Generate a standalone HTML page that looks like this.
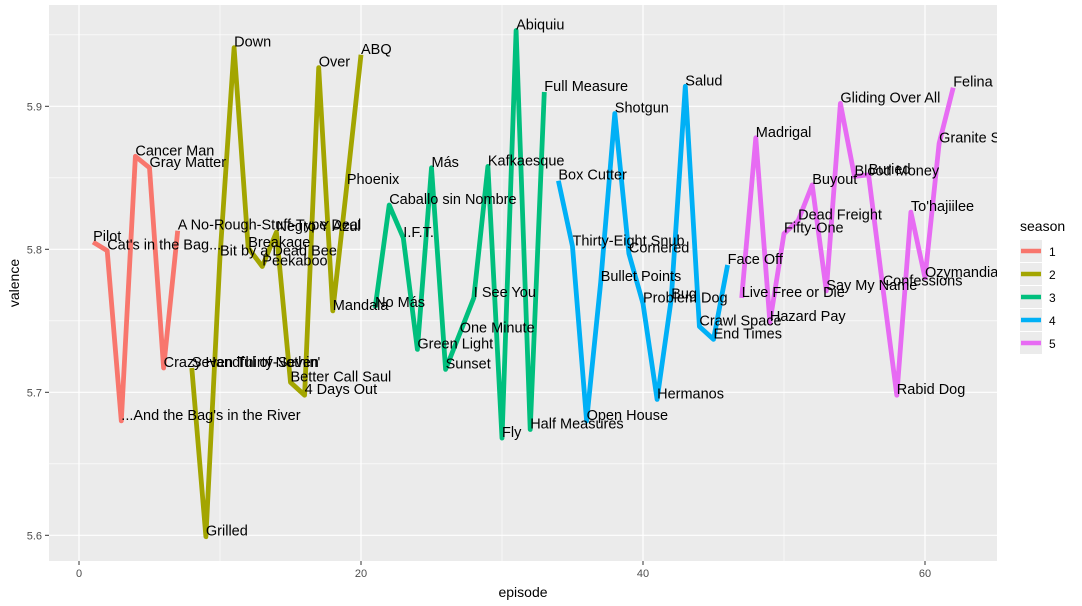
<!DOCTYPE html>
<html><head><meta charset="utf-8">
<style>
html,body{margin:0;padding:0;background:#fff;}
svg{display:block;font-family:"Liberation Sans",Arial,sans-serif;}
</style></head>
<body>
<svg id="chart" width="1082" height="606" viewBox="0 0 1082 606">
<defs><clipPath id="pclip"><rect x="49" y="5" width="948" height="556"/></clipPath></defs>
<rect x="0" y="0" width="1082" height="606" fill="#fff"/>
<rect x="49" y="5" width="948" height="556" fill="#ebebeb"/>
<g id="grid"></g>
<g id="lines" clip-path="url(#pclip)"></g>
<g id="labels" clip-path="url(#pclip)"></g>
<g id="axes"></g>
<text x="523" y="597" font-size="14" text-anchor="middle" fill="#000">episode</text>
<text transform="translate(19,283) rotate(-90)" font-size="14" text-anchor="middle" fill="#000">valence</text>
<g id="legend"></g>
</svg>
<script>
const titles = ["Pilot","Cat's in the Bag...","...And the Bag's in the River","Cancer Man","Gray Matter","Crazy Handful of Nothin'","A No-Rough-Stuff-Type Deal",
"Seven Thirty-Seven","Grilled","Bit by a Dead Bee","Down","Breakage","Peekaboo","Negro Y Azul","Better Call Saul","4 Days Out","Over","Mandala","Phoenix","ABQ",
"No Más","Caballo sin Nombre","I.F.T.","Green Light","Más","Sunset","One Minute","I See You","Kafkaesque","Fly","Abiquiu","Half Measures","Full Measure",
"Box Cutter","Thirty-Eight Snub","Open House","Bullet Points","Shotgun","Cornered","Problem Dog","Hermanos","Bug","Salud","Crawl Space","End Times","Face Off",
"Live Free or Die","Madrigal","Hazard Pay","Fifty-One","Dead Freight","Buyout","Say My Name","Gliding Over All","Blood Money","Buried","Confessions","Rabid Dog","To'hajiilee","Ozymandias","Granite State","Felina"];
const valence = [5.805,5.799,5.680,5.865,5.857,5.717,5.813,
5.717,5.599,5.795,5.941,5.801,5.788,5.812,5.707,5.698,5.927,5.757,5.845,5.936,
5.759,5.831,5.808,5.730,5.857,5.716,5.741,5.766,5.858,5.668,5.953,5.674,5.910,
5.848,5.802,5.680,5.777,5.895,5.797,5.762,5.695,5.765,5.914,5.746,5.737,5.789,
5.766,5.878,5.749,5.811,5.820,5.845,5.771,5.902,5.851,5.852,5.774,5.698,5.826,5.780,5.874,5.913];
const seasonCounts = [7,13,13,13,16];
const seasonNames = ["1","2","3","4","5"];
const colors = ["#F8766D","#A3A500","#00BF7D","#00B0F6","#E76BF3"];
const xTicks = [0,20,40,60];
const yTicks = [5.6,5.7,5.8,5.9];

const NS="http://www.w3.org/2000/svg";
const L=49,R=997,T=5,B=561;
const xs=v=>79+v*14.1;
const ys=v=>535.3-(v-5.6)*1430;
function mk(tag,attrs,parent){const e=document.createElementNS(NS,tag);for(const k in attrs)e.setAttribute(k,attrs[k]);parent.appendChild(e);return e;}
const grid=document.getElementById('grid'),lines=document.getElementById('lines'),labs=document.getElementById('labels'),axes=document.getElementById('axes'),leg=document.getElementById('legend');
for(let i=0;i<xTicks.length;i++){
  const m=xTicks[i]+10; if(xs(m)<R){const g=mk('line',{x1:xs(m),x2:xs(m),y1:T,y2:B,stroke:'#fff','stroke-width':0.6},grid);}
}
for(let i=0;i<yTicks.length;i++){
  [yTicks[i]-0.05,yTicks[i]+0.05].forEach(m=>{const y=ys(m);if(y>T&&y<B&&(i==0||m>yTicks[i])){const g=mk('line',{x1:L,x2:R,y1:y,y2:y,stroke:'#fff','stroke-width':0.6},grid);}});
}
xTicks.forEach(t=>{
  const g=mk('line',{x1:xs(t),x2:xs(t),y1:T,y2:B,stroke:'#fff','stroke-width':1.2},grid);
  
  const tk=mk('line',{x1:xs(t),x2:xs(t),y1:B,y2:B+4,stroke:'#333','stroke-width':1},axes);
  
  const tx=mk('text',{x:xs(t),y:B+16,'font-size':11,'text-anchor':'middle',fill:'#4d4d4d'},axes);
  tx.textContent=t;
  
});
yTicks.forEach(t=>{
  const g=mk('line',{x1:L,x2:R,y1:ys(t),y2:ys(t),stroke:'#fff','stroke-width':1.2},grid);
  
  const tk=mk('line',{x1:L-4,x2:L,y1:ys(t),y2:ys(t),stroke:'#333','stroke-width':1},axes);
  
  const tx=mk('text',{x:L-7,y:ys(t)+4,'font-size':11,'text-anchor':'end',fill:'#4d4d4d'},axes);
  tx.textContent=t.toFixed(1);
  
});
let start=0;
seasonCounts.forEach((c,s)=>{
  const pts=[];
  for(let i=start;i<start+c;i++)pts.push(xs(i+1).toFixed(1)+','+ys(valence[i]).toFixed(1));
  const pl=mk('polyline',{points:pts.join(' '),fill:'none',stroke:colors[s],'stroke-width':4.8,'stroke-linejoin':'round'},lines);
  
  
  start+=c;
});
for(let i=0;i<valence.length;i++){
  const t=mk('text',{x:xs(i+1),y:ys(valence[i])-1,'font-size':14.5,fill:'#000'},labs);
  t.textContent=titles[i];
  
  
}
const lt=mk('text',{x:1020,y:231,'font-size':14,fill:'#000'},leg);
lt.textContent='season';


seasonNames.forEach((n,s)=>{
  const cy=251+s*23;
  const bx=mk('rect',{x:1020,y:cy-11,width:22,height:22,fill:'#ebebeb'},leg);
  
  const ln=mk('line',{x1:1021,x2:1041,y1:cy,y2:cy,stroke:colors[s],'stroke-width':4.5},leg);
  
  const tx=mk('text',{x:1049,y:cy+5,'font-size':12,fill:'#000'},leg);
  tx.textContent=n;
  
});
</script>
</body></html>
